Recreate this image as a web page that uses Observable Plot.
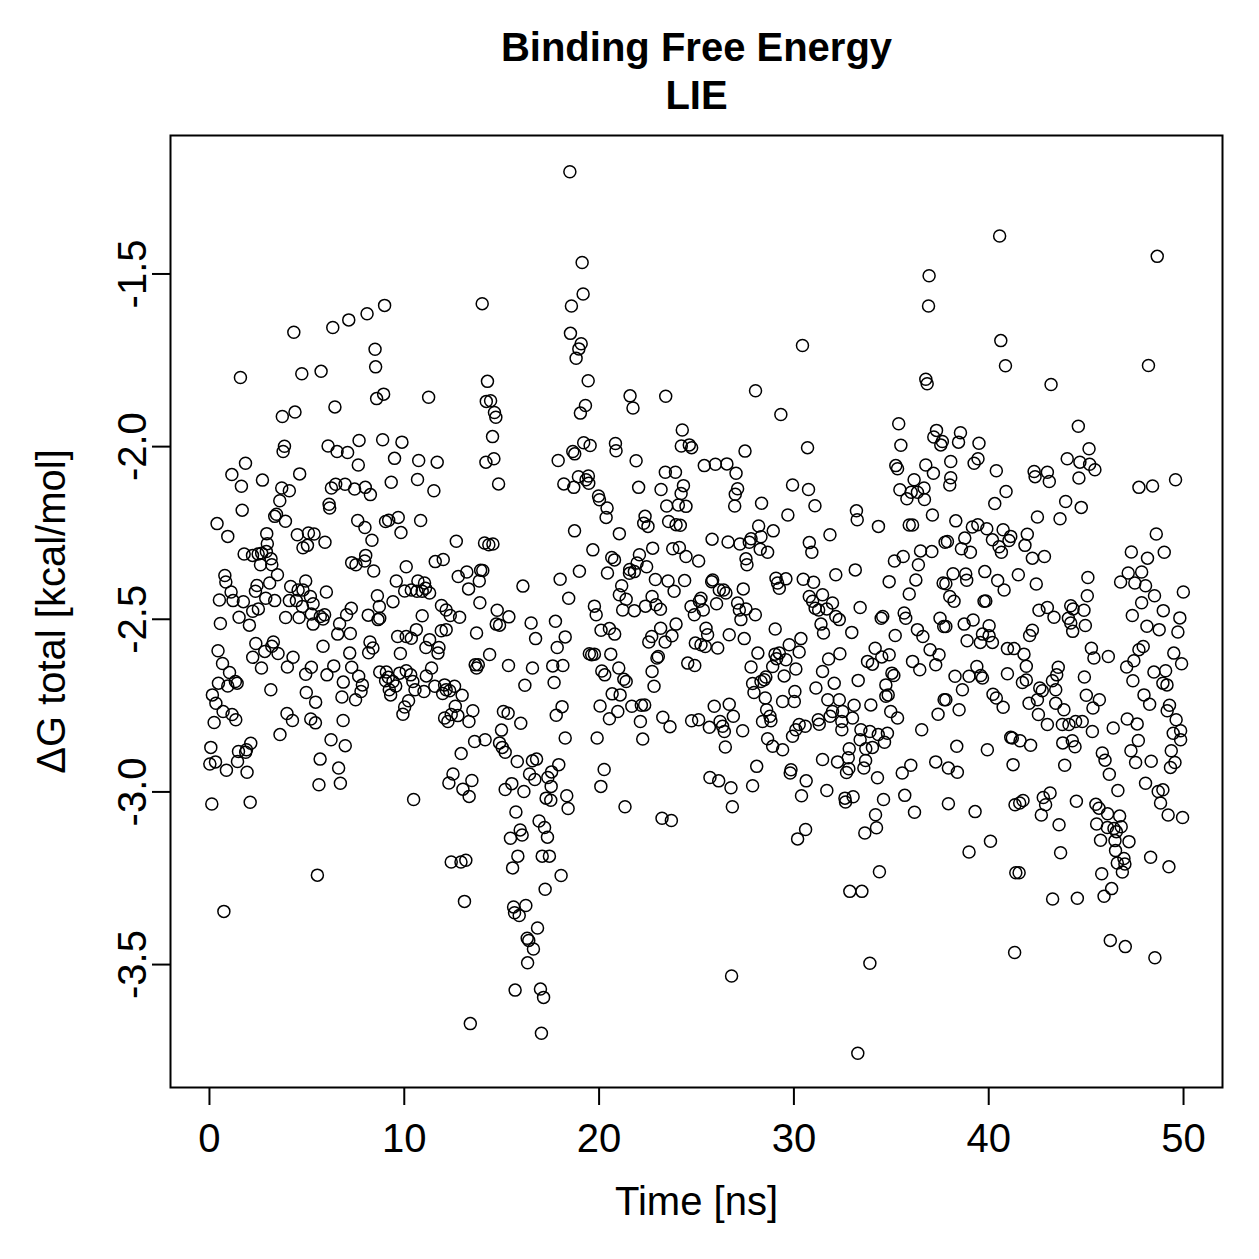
<!DOCTYPE html>
<html>
<head>
<meta charset="utf-8">
<script src="https://cdn.jsdelivr.net/npm/d3@7"></script>
<script src="https://cdn.jsdelivr.net/npm/@observablehq/plot@0.6"></script>
<style>
  body { margin: 0; background: #fff; }
  svg { display: block; }
</style>
</head>
<body>
<div id="chart"></div>
<script>
// Labels and ticks
const titleLines = ["Binding Free Energy", "LIE"];
const xLabel = "Time [ns]";
const yLabel = "\u0394G total [kcal/mol]";
const xTicks = [0, 10, 20, 30, 40, 50];
const yTicks = [-3.5, -3.0, -2.5, -2.0, -1.5];

// LIE binding free energy samples, [time (ns), dG total (kcal/mol)]
const samples0to12 = [
  [8.99,-1.591],[8.09,-1.615],[7.15,-1.633],[6.33,-1.655],[4.33,-1.669],[8.50,-1.718],[8.53,-1.769],[5.73,-1.782],[4.74,-1.789],[1.59,-1.800],
  [8.94,-1.848],[8.58,-1.861],[11.25,-1.857],[4.39,-1.900],[3.74,-1.913],[6.44,-1.885],[3.85,-1.999],[3.78,-2.014],[6.09,-1.998],[6.55,-2.014],
  [7.09,-2.017],[7.68,-1.982],[8.89,-1.980],[9.88,-1.987],
  [1.85,-2.048],[1.15,-2.081],[1.64,-2.115],[2.72,-2.097],[4.63,-2.079],[3.71,-2.120],[4.10,-2.128],[3.61,-2.157],[1.68,-2.184],[3.44,-2.196],
  [3.35,-2.202],[3.90,-2.216],[0.39,-2.223],[0.94,-2.260],[2.94,-2.252],[2.97,-2.281],[7.64,-2.053],[9.50,-2.034],[10.74,-2.040],[11.69,-2.045],
  [9.33,-2.103],[10.68,-2.095],[11.52,-2.128],[6.48,-2.109],[6.26,-2.120],[6.96,-2.109],[7.45,-2.123],[8.00,-2.118],[8.26,-2.139],[6.14,-2.167],
  [6.17,-2.178],[7.61,-2.214],[7.98,-2.234],[8.34,-2.271],[9.04,-2.217],[9.20,-2.213],[9.69,-2.205],[9.83,-2.249],[10.84,-2.214],[4.51,-2.255],
  [5.08,-2.250],[5.37,-2.253],[5.93,-2.277],[4.80,-2.293],[5.03,-2.286],[1.78,-2.311],[2.21,-2.315],[2.50,-2.311],[2.68,-2.309],[2.92,-2.304],
  [3.16,-2.325],[2.62,-2.342],[3.20,-2.342],[3.49,-2.371],[0.79,-2.373],[0.84,-2.392],[1.11,-2.421],[1.21,-2.446],[1.74,-2.449],[0.51,-2.444],
  [2.36,-2.419],[2.44,-2.402],[3.09,-2.395],[2.89,-2.439],[3.35,-2.446],[2.22,-2.477],[2.51,-2.470],[1.52,-2.494],[2.05,-2.517],[0.56,-2.512],
  [4.17,-2.405],[4.55,-2.415],[4.80,-2.415],[4.94,-2.389],[5.18,-2.434],[5.32,-2.455],[6.00,-2.421],[4.10,-2.446],[4.46,-2.446],[4.77,-2.463],
  [3.91,-2.495],[4.60,-2.495],[5.23,-2.485],[5.69,-2.492],[5.91,-2.487],[5.83,-2.499],[5.32,-2.514],[7.30,-2.336],[7.52,-2.342],[8.02,-2.315],
  [7.97,-2.331],[8.43,-2.360],[10.10,-2.348],[11.59,-2.333],[12.00,-2.327],[9.59,-2.389],[10.02,-2.418],[10.36,-2.415],[10.70,-2.389],[11.04,-2.395],
  [10.65,-2.419],[10.92,-2.419],[11.30,-2.424],[11.09,-2.410],[11.91,-2.460],[11.90,-2.533],[8.62,-2.432],[8.72,-2.463],[9.42,-2.449],[8.15,-2.488],
  [8.74,-2.497],[8.65,-2.501],[10.92,-2.490],[7.28,-2.468],[7.04,-2.487],[6.68,-2.513],[6.58,-2.543],[7.23,-2.541],[9.66,-2.550],[10.10,-2.550],
  [10.36,-2.555],[10.62,-2.530],[11.30,-2.559],[11.11,-2.582],[11.78,-2.582],[11.73,-2.598],[9.80,-2.599],[0.44,-2.591],[0.67,-2.628],[1.03,-2.654],
  [1.33,-2.680],[1.42,-2.685],[0.94,-2.693],[0.46,-2.685],[0.15,-2.719],[0.33,-2.743],[0.70,-2.767],[1.16,-2.776],[1.35,-2.791],[0.24,-2.799],
  [2.38,-2.570],[3.28,-2.566],[3.20,-2.578],[2.84,-2.593],[3.52,-2.599],[2.22,-2.610],[2.67,-2.641],[4.29,-2.610],[4.00,-2.638],[3.15,-2.704],
  [4.97,-2.712],[5.45,-2.740],[4.94,-2.659],[5.23,-2.639],[6.03,-2.661],[6.38,-2.635],[6.87,-2.682],[7.30,-2.639],[7.66,-2.665],[7.85,-2.690],
  [7.78,-2.709],[7.50,-2.733],[6.80,-2.725],[5.83,-2.578],[7.20,-2.598],[8.24,-2.566],[8.39,-2.583],[8.17,-2.597],[8.74,-2.653],[9.08,-2.653],
  [9.18,-2.668],[9.04,-2.678],[9.42,-2.680],[9.56,-2.693],[9.23,-2.704],[9.30,-2.719],[9.76,-2.656],[10.10,-2.649],[10.33,-2.661],[10.44,-2.680],
  [10.55,-2.704],[11.01,-2.709],[11.13,-2.664],[11.40,-2.641],[11.57,-2.694],[12.07,-2.690],[11.97,-2.715],[10.22,-2.736],[10.02,-2.754],[9.93,-2.775],
  [12.07,-2.786],[3.98,-2.773],[4.26,-2.793],[5.20,-2.789],[5.44,-2.800],[6.86,-2.793],[3.62,-2.834],[6.24,-2.849],[6.97,-2.866],[0.07,-2.871],
  [1.49,-2.883],[1.86,-2.885],[2.12,-2.859],[1.90,-2.878],
  [0.02,-2.919],[0.31,-2.913],[0.87,-2.937],[1.44,-2.912],[1.93,-2.943],[5.68,-2.905],[6.63,-2.931],[5.62,-2.979],[6.72,-2.975],[0.12,-3.035],
  [2.09,-3.030],[10.48,-3.022],[5.54,-3.241],[0.74,-3.346]
];

const samples12to25 = [
  [18.50,-1.204],[19.13,-1.467],[19.18,-1.558],[18.58,-1.593],[14.00,-1.586],[18.53,-1.672],[19.08,-1.702],[18.96,-1.717],[18.82,-1.744],[19.44,-1.809],
  [14.27,-1.811],[14.21,-1.869],[14.43,-1.867],[14.63,-1.901],[14.70,-1.915],[19.30,-1.881],[19.04,-1.903],[21.59,-1.853],[21.74,-1.888],[23.42,-1.854],
  [24.27,-1.952],[24.22,-1.998],[24.63,-1.995],[24.75,-2.003],[14.53,-1.971],[19.21,-1.989],[19.54,-1.997],[20.84,-1.991],[20.87,-2.012],[18.65,-2.014],
  [18.75,-2.021],
  [14.19,-2.045],[14.60,-2.035],[14.84,-2.108],[17.90,-2.040],[21.90,-2.041],[18.19,-2.108],[18.70,-2.118],[18.94,-2.087],[19.33,-2.096],[19.45,-2.085],
  [19.47,-2.106],[19.97,-2.143],[20.02,-2.154],[20.41,-2.178],[20.36,-2.205],[18.74,-2.244],[21.04,-2.252],[22.03,-2.118],[23.18,-2.124],[23.40,-2.074],
  [23.92,-2.074],[24.33,-2.113],[24.21,-2.136],[23.47,-2.172],[24.07,-2.169],[24.46,-2.173],[23.57,-2.217],[23.95,-2.226],[24.17,-2.228],[22.36,-2.202],
  [22.29,-2.222],[22.51,-2.231],[12.67,-2.274],[14.12,-2.279],[14.34,-2.284],[14.55,-2.282],[12.77,-2.376],[13.21,-2.363],[13.92,-2.358],[14.03,-2.359],
  [13.85,-2.389],[13.30,-2.412],[13.88,-2.452],[16.09,-2.404],[18.00,-2.384],[18.99,-2.361],[19.68,-2.299],[20.43,-2.366],[20.65,-2.321],[20.79,-2.328],
  [21.16,-2.403],[21.57,-2.356],[21.81,-2.362],[21.95,-2.337],[22.07,-2.313],[22.44,-2.348],[22.75,-2.294],[21.56,-2.367],[21.04,-2.429],[21.39,-2.442],
  [21.21,-2.473],[21.81,-2.475],[22.89,-2.385],[23.54,-2.389],[23.85,-2.419],[24.39,-2.388],[18.44,-2.439],[19.76,-2.462],[19.85,-2.487],[20.10,-2.532],
  [20.53,-2.527],[20.80,-2.543],[12.15,-2.473],[12.36,-2.489],[12.84,-2.494],[12.15,-2.530],[14.77,-2.474],[15.37,-2.493],[14.72,-2.514],[14.89,-2.517],
  [13.71,-2.540],[16.51,-2.511],[16.74,-2.556],[17.76,-2.506],[18.26,-2.551],[17.85,-2.582],[14.38,-2.602],[15.35,-2.634],[16.58,-2.641],[13.64,-2.632],
  [13.80,-2.632],[13.71,-2.641],[17.62,-2.635],[18.14,-2.634],[17.69,-2.683],[16.19,-2.691],[19.50,-2.600],[19.62,-2.603],[19.76,-2.601],[20.60,-2.601],
  [20.14,-2.650],[20.29,-2.661],[21.01,-2.641],[21.27,-2.674],[21.39,-2.680],[22.72,-2.651],[22.82,-2.694],[22.97,-2.612],[23.04,-2.608],[22.55,-2.566],
  [22.70,-2.550],[23.39,-2.566],[23.16,-2.526],[23.74,-2.548],[23.95,-2.514],[22.38,-2.462],[22.72,-2.434],[22.92,-2.458],[23.15,-2.471],[23.78,-2.296],
  [24.12,-2.292],[24.46,-2.318],[24.72,-2.463],[24.89,-2.487],[24.94,-2.569],[24.55,-2.627],[24.91,-2.634],[20.67,-2.716],[21.08,-2.719],[20.05,-2.751],
  [20.96,-2.767],[20.53,-2.788],[21.68,-2.752],[22.17,-2.749],[22.34,-2.748],[22.12,-2.796],[23.27,-2.784],[23.64,-2.811],[24.75,-2.794],[22.24,-2.847],
  [19.90,-2.844],[18.26,-2.844],[18.10,-2.753],[17.80,-2.778],[15.98,-2.801],[15.09,-2.767],[15.33,-2.772],[14.99,-2.821],[14.15,-2.849],[13.61,-2.854],
  [14.89,-2.858],[15.03,-2.871],[15.18,-2.885],[12.92,-2.889],[12.15,-2.704],[12.58,-2.694],[12.97,-2.720],[12.62,-2.752],[12.41,-2.776],[12.24,-2.796],
  [12.75,-2.779],[13.52,-2.765],[13.32,-2.796],[12.33,-2.707],
  [12.50,-2.948],[12.29,-2.974],[13.47,-2.967],[13.01,-2.992],[13.33,-3.013],[15.80,-2.912],[16.58,-2.910],[16.79,-2.905],[17.93,-2.921],[16.43,-2.948],
  [16.70,-2.964],[17.56,-2.942],[17.37,-2.958],[17.54,-2.984],[15.52,-2.976],[15.18,-2.993],[16.14,-2.999],[17.28,-3.018],[17.52,-3.024],[18.34,-3.011],
  [18.41,-3.048],[20.26,-2.935],[20.09,-2.984],[21.33,-3.043],[23.23,-3.076],[23.71,-3.083],[15.73,-3.058],[16.92,-3.084],[17.20,-3.103],[17.35,-3.131],
  [15.95,-3.110],[16.05,-3.125],[15.45,-3.134],[12.41,-3.203],[12.91,-3.203],[13.16,-3.198],[15.83,-3.186],[15.56,-3.220],[17.08,-3.186],[17.45,-3.186],
  [18.05,-3.242],[17.23,-3.282],[13.09,-3.317],[15.61,-3.333],[16.24,-3.329],[15.66,-3.350],[15.90,-3.358],[16.84,-3.394],[16.31,-3.424],[16.39,-3.430],
  [16.63,-3.455],[16.33,-3.495],[15.69,-3.574],[16.99,-3.571],[17.15,-3.595],[13.39,-3.671],[17.04,-3.699]
];

const samples25to38 = [
  [36.94,-1.505],[36.91,-1.593],[30.44,-1.707],[28.03,-1.838],[29.33,-1.907],[36.77,-1.805],[36.84,-1.818],[35.38,-1.934],[35.49,-1.996],[37.32,-1.953],
  [37.18,-1.972],[37.62,-1.985],[37.54,-1.995],[27.49,-2.013],[30.70,-2.003],
  [25.40,-2.055],[25.97,-2.051],[26.56,-2.050],[27.03,-2.077],[27.11,-2.122],[26.99,-2.138],[26.96,-2.172],[28.34,-2.164],[29.93,-2.111],[30.75,-2.124],
  [31.08,-2.171],[29.69,-2.198],[28.19,-2.230],[28.94,-2.244],[28.31,-2.261],[27.80,-2.267],[27.71,-2.277],[27.23,-2.282],[26.62,-2.276],[25.80,-2.268],
  [28.27,-2.297],[28.65,-2.306],[27.54,-2.325],[27.59,-2.342],[25.11,-2.331],[25.83,-2.386],[25.78,-2.391],[26.17,-2.415],[26.39,-2.415],[26.51,-2.424],
  [27.40,-2.412],[26.03,-2.455],[25.23,-2.439],[25.15,-2.448],[25.35,-2.473],[25.49,-2.526],[25.57,-2.545],[25.23,-2.574],[25.45,-2.579],[26.09,-2.583],
  [26.68,-2.545],[27.45,-2.556],[27.11,-2.453],[27.20,-2.473],[27.54,-2.470],[27.28,-2.501],[28.02,-2.487],[29.04,-2.528],[29.08,-2.381],[29.16,-2.395],
  [29.25,-2.410],[29.59,-2.383],[30.48,-2.384],[31.01,-2.393],[30.79,-2.434],[30.96,-2.448],[31.09,-2.468],[31.27,-2.473],[31.47,-2.429],[31.98,-2.453],
  [31.69,-2.470],[32.15,-2.492],[32.33,-2.501],[31.39,-2.514],[31.52,-2.540],[32.97,-2.538],[33.40,-2.466],[32.15,-2.371],[33.15,-2.357],[31.85,-2.255],
  [30.79,-2.278],[30.92,-2.306],[33.21,-2.186],[33.25,-2.212],[34.34,-2.231],[35.23,-2.055],[35.32,-2.064],[36.77,-2.053],[37.16,-2.077],[35.44,-2.125],
  [35.80,-2.151],[36.02,-2.132],[36.17,-2.096],[36.68,-2.120],[36.70,-2.153],[36.34,-2.132],[37.11,-2.198],[35.92,-2.227],[36.09,-2.227],[37.76,-2.277],
  [37.08,-2.304],[36.50,-2.302],[35.16,-2.331],[35.61,-2.318],[36.39,-2.342],[36.26,-2.386],[34.89,-2.391],[35.92,-2.427],[37.66,-2.395],[34.48,-2.497],
  [34.56,-2.492],[35.66,-2.482],[35.74,-2.497],[35.20,-2.547],[36.34,-2.530],[36.62,-2.550],[37.50,-2.497],[37.69,-2.521],[34.17,-2.584],[33.78,-2.622],
  [34.03,-2.630],[34.89,-2.603],[34.51,-2.609],[35.03,-2.656],[35.13,-2.663],[36.99,-2.588],[37.45,-2.603],[36.09,-2.622],[36.46,-2.646],[37.28,-2.632],
  [34.72,-2.690],[34.84,-2.719],[34.72,-2.723],[34.97,-2.767],[35.32,-2.786],[33.95,-2.748],[33.30,-2.677],[32.36,-2.600],[31.78,-2.615],[31.47,-2.651],
  [31.13,-2.699],[32.07,-2.685],[31.74,-2.733],[32.33,-2.733],[33.09,-2.749],[31.98,-2.767],[32.50,-2.767],[31.86,-2.781],[32.46,-2.796],[33.01,-2.786],
  [32.46,-2.820],[31.25,-2.791],[31.30,-2.804],[30.36,-2.556],[29.76,-2.574],[30.27,-2.595],[30.10,-2.644],[29.50,-2.664],[29.03,-2.601],[29.25,-2.598],
  [29.11,-2.614],[29.59,-2.617],[28.91,-2.637],[28.15,-2.598],[27.80,-2.638],[28.56,-2.667],[28.48,-2.675],[27.88,-2.686],[27.95,-2.712],[28.53,-2.728],
  [28.31,-2.680],[30.05,-2.709],[30.02,-2.738],[29.42,-2.738],[28.60,-2.762],[28.77,-2.781],[28.82,-2.794],[28.39,-2.796],[28.65,-2.846],[28.91,-2.868],
  [29.42,-2.878],[29.93,-2.839],[30.10,-2.820],[30.27,-2.805],[30.58,-2.810],[26.68,-2.746],[26.89,-2.781],[25.91,-2.752],[25.66,-2.813],[26.21,-2.796],
  [26.34,-2.810],[26.43,-2.825],[27.37,-2.823],[26.48,-2.870],[25.11,-2.791],[36.56,-2.820],[37.40,-2.775],[37.71,-2.733],[33.44,-2.820],[33.90,-2.825],
  [34.33,-2.834],[34.80,-2.830],[33.40,-2.849],[33.69,-2.875],[34.03,-2.871],[34.65,-2.856],[32.84,-2.875],
  [28.09,-2.926],[27.88,-2.982],[25.69,-2.958],[26.14,-2.968],[26.77,-2.988],[26.84,-3.043],[29.85,-2.936],[29.81,-2.945],[30.63,-2.968],[30.39,-3.011],
  [31.47,-2.906],[32.24,-2.913],[32.79,-2.901],[32.82,-2.933],[32.70,-2.944],[33.68,-2.909],[33.59,-2.931],[31.69,-2.996],[32.62,-3.018],[32.65,-3.029],
  [33.04,-3.014],[34.29,-2.959],[34.60,-3.022],[34.19,-3.066],[33.64,-3.119],[34.24,-3.104],[35.56,-2.945],[36.00,-2.923],[35.69,-3.010],[36.19,-3.059],
  [37.28,-2.913],[30.60,-3.109],[30.19,-3.136],[34.39,-3.231],[32.87,-3.288],[33.49,-3.288],[33.90,-3.496],[26.80,-3.533],[33.28,-3.757]
];

const samples38to50 = [
  [40.56,-1.390],[48.65,-1.449],[40.62,-1.693],[40.86,-1.766],[48.20,-1.765],[43.20,-1.820],[44.60,-1.941],[45.15,-2.006],[38.55,-1.960],[38.45,-1.987],
  [39.50,-1.990],
  [38.05,-2.043],[39.25,-2.048],[39.45,-2.035],[40.39,-2.070],[42.33,-2.072],[42.38,-2.087],[43.01,-2.074],[43.11,-2.101],[44.03,-2.035],[44.68,-2.045],
  [45.18,-2.051],[45.45,-2.067],[44.63,-2.091],[47.71,-2.118],[48.41,-2.114],[49.59,-2.096],[38.05,-2.090],[38.00,-2.111],[40.89,-2.130],[40.31,-2.165],
  [43.95,-2.159],[44.75,-2.176],[42.50,-2.204],[43.66,-2.209],[38.31,-2.215],[39.16,-2.233],[39.44,-2.226],[39.90,-2.238],[40.74,-2.241],[40.19,-2.270],
  [37.88,-2.275],[38.77,-2.265],[38.60,-2.296],[39.06,-2.306],[40.53,-2.290],[40.65,-2.306],[41.04,-2.272],[41.13,-2.260],[41.86,-2.286],[41.98,-2.254],
  [42.24,-2.323],[42.86,-2.318],[48.60,-2.253],[47.32,-2.305],[48.15,-2.323],[49.01,-2.306],[38.17,-2.368],[38.82,-2.369],[38.87,-2.387],[39.80,-2.362],
  [40.46,-2.388],[40.79,-2.415],[41.52,-2.371],[42.44,-2.398],[37.80,-2.397],[38.00,-2.434],[38.22,-2.448],[39.76,-2.448],[39.85,-2.447],[42.58,-2.474],
  [43.01,-2.466],[43.35,-2.494],[44.21,-2.461],[44.33,-2.470],[44.89,-2.474],[44.09,-2.497],[44.21,-2.511],[44.31,-2.535],[44.96,-2.518],[45.09,-2.379],
  [45.06,-2.432],[46.77,-2.392],[47.16,-2.366],[47.50,-2.395],[47.85,-2.363],[48.05,-2.403],[48.51,-2.432],[47.85,-2.452],[47.37,-2.489],[48.12,-2.520],
  [48.75,-2.530],[48.96,-2.475],[49.99,-2.421],[49.81,-2.496],[49.71,-2.537],[37.80,-2.521],[38.74,-2.514],[39.20,-2.502],[40.02,-2.519],[38.89,-2.562],
  [39.57,-2.567],[39.68,-2.543],[40.02,-2.548],[40.19,-2.567],[42.10,-2.547],[42.24,-2.532],[40.96,-2.585],[41.30,-2.585],[41.81,-2.601],[41.93,-2.636],
  [41.73,-2.683],[41.93,-2.676],[40.96,-2.658],[38.27,-2.665],[38.99,-2.665],[39.39,-2.637],[39.68,-2.670],[39.59,-2.663],[38.65,-2.704],[37.80,-2.733],
  [38.48,-2.762],[40.22,-2.717],[40.39,-2.728],[40.74,-2.755],[42.07,-2.743],[42.50,-2.733],[42.75,-2.707],[42.62,-2.699],[43.27,-2.678],[43.49,-2.661],
  [43.57,-2.639],[43.44,-2.704],[43.44,-2.743],[43.86,-2.762],[42.55,-2.776],[43.01,-2.805],[43.78,-2.805],[44.12,-2.805],[44.46,-2.796],[44.80,-2.796],
  [45.32,-2.825],[46.39,-2.815],[47.11,-2.789],[47.62,-2.803],[45.27,-2.584],[45.40,-2.612],[46.14,-2.608],[47.08,-2.638],[47.45,-2.620],[47.71,-2.588],
  [47.93,-2.579],[47.40,-2.678],[48.48,-2.653],[49.08,-2.649],[48.94,-2.685],[49.15,-2.690],[49.50,-2.598],[49.90,-2.629],[44.91,-2.667],[45.01,-2.720],
  [45.68,-2.733],[45.35,-2.757],[47.97,-2.719],[48.26,-2.746],[49.16,-2.765],[49.28,-2.749],[49.62,-2.791],[49.85,-2.823],[49.47,-2.830],[49.85,-2.849],
  [49.37,-2.881],[47.68,-2.851],[47.30,-2.881],[45.83,-2.887],[41.21,-2.844],[41.13,-2.842],[41.61,-2.852],[42.15,-2.865],[43.80,-2.858],[44.29,-2.852],
  [44.43,-2.869],[38.36,-2.868],[39.93,-2.878],
  [37.93,-2.931],[38.39,-2.943],[41.25,-2.921],[43.90,-2.923],[37.93,-3.034],[39.30,-3.057],[40.09,-3.143],[38.99,-3.174],[41.35,-3.037],[41.59,-3.032],
  [41.76,-3.025],[42.80,-3.016],[43.15,-3.003],[42.92,-3.037],[42.70,-3.067],[44.50,-3.027],[43.61,-3.095],[43.69,-3.176],[41.39,-3.234],[41.56,-3.234],
  [43.28,-3.310],[44.55,-3.308],[41.33,-3.465],[45.97,-2.908],[46.19,-2.949],[46.63,-2.996],[47.54,-2.915],[48.34,-2.911],[49.56,-2.915],[49.33,-2.929],
  [48.05,-2.975],[48.70,-2.999],[48.94,-2.994],[48.82,-3.032],[49.21,-3.067],[49.95,-3.074],[45.50,-3.036],[45.66,-3.047],[46.10,-3.063],[46.72,-3.070],
  [45.54,-3.093],[46.09,-3.103],[46.43,-3.106],[46.80,-3.101],[46.55,-3.115],[45.74,-3.140],[46.48,-3.141],[47.20,-3.144],[46.51,-3.170],[46.94,-3.193],
  [46.60,-3.206],[46.99,-3.209],[46.86,-3.232],[45.80,-3.237],[46.31,-3.280],[45.92,-3.302],[48.31,-3.189],[49.25,-3.217],[46.24,-3.430],[47.01,-3.448],
  [48.53,-3.480]
];

const points = [...samples0to12, ...samples12to25, ...samples25to38, ...samples38to50]
  .map(([t, dG]) => ({t, dG}));

const font = "'Liberation Sans', Arial, Helvetica, sans-serif";

const chart = Plot.plot({
  width: 1259,
  height: 1259,
  marginLeft: 170,
  marginRight: 37,
  marginTop: 135,
  marginBottom: 172,
  style: {fontFamily: font, fontSize: "40px", background: "white", color: "black"},
  x: {domain: [-2, 52]},
  y: {domain: [-3.856, -1.099]},
  marks: [
    Plot.dot(points, {x: "t", y: "dG", r: 6, stroke: "black", strokeWidth: 1.5, fill: "none"}),
    Plot.frame({stroke: "black", strokeWidth: 2}),
    Plot.axisX({ticks: xTicks, tickSize: 18, tickPadding: 18, strokeWidth: 2, fontSize: 40, label: null, tickFormat: d => String(d)}),
    Plot.axisY({ticks: yTicks, tickSize: 18, tickPadding: 7, tickRotate: -90, strokeWidth: 2, fontSize: 40, label: null, tickFormat: d => d.toFixed(1)}),
    Plot.text([xLabel], {text: d => d, frameAnchor: "bottom", dy: 127, textAnchor: "middle", lineAnchor: "bottom", fontSize: 40}),
    Plot.text([yLabel], {text: d => d, frameAnchor: "left", dx: -106, rotate: -90, textAnchor: "middle", lineAnchor: "bottom", fontSize: 40}),
    Plot.text([titleLines[0]], {text: d => d, frameAnchor: "top", dy: -75, textAnchor: "middle", lineAnchor: "bottom", fontSize: 40, fontWeight: "bold"}),
    Plot.text([titleLines[1]], {text: d => d, frameAnchor: "top", dy: -27, textAnchor: "middle", lineAnchor: "bottom", fontSize: 40, fontWeight: "bold"})
  ]
});

document.getElementById("chart").appendChild(chart);
</script>
</body>
</html>
